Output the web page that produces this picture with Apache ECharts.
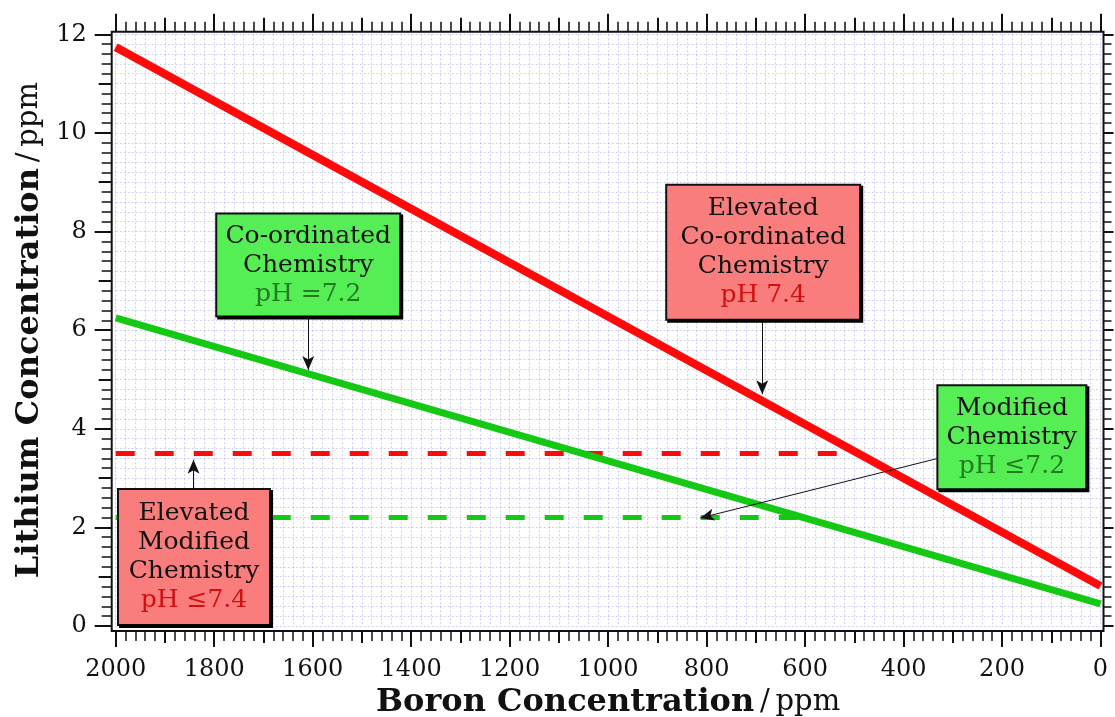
<!DOCTYPE html>
<html>
<head>
<meta charset="utf-8">
<script src="https://cdn.jsdelivr.net/npm/echarts@6/dist/echarts.min.js"></script>
<style>
  html, body { margin: 0; padding: 0; background: #fff; }
  #chart { width: 1115px; height: 717px; }
</style>
</head>
<body>
<div id="chart"></div>
<script>
// Boron range covered by the two operating lines (ppm)
const boronEnds = [2000, 0];
// Lithium at the ends of each sloped chemistry line (ppm)
const elevatedCoordinated = [11.74, 0.81];
const coordinated = [6.25, 0.45];
// Flat lithium levels and the boron span over which they hold
const elevatedModifiedSpan = [2000, 500];
const elevatedModifiedLevel = 3.5;
const modifiedSpan = [2000, 600];
const modifiedLevel = 2.2;

// Axis ranges and tick steps
const boronAxis = { min: 0, max: 2000, step: 200, half: 100 };
const lithiumAxis = { min: 0, max: 12, step: 2, half: 1 };

// Callout text
const noteTexts = {
  coordinated: ['Co-ordinated', 'Chemistry', 'pH =7.2'],
  elevatedCoordinated: ['Elevated', 'Co-ordinated', 'Chemistry', 'pH 7.4'],
  modified: ['Modified', 'Chemistry', 'pH \u22647.2'],
  elevatedModified: ['Elevated', 'Modified', 'Chemistry', 'pH \u22647.4']
};

const SERIF = '"DejaVu Serif", "Liberation Serif", serif';
const RED = '#ff0a0a';
const GREEN = '#14c814';
const GRID_LINE = { color: 'rgba(140,140,230,0.42)', width: 1, type: [2, 2] };

// Callout placement (data coordinates) and look
const noteLayout = [
  { key: 'coordinated', at: [1609, 7.32], w: 184, h: 101, fill: '#55ef55', ph: '#237a23',
    arrow: [[1609, 6.25], [1609, 5.19]] },
  { key: 'elevatedCoordinated', at: [685, 7.58], w: 194, h: 133, fill: '#fa7d7d', ph: '#d01010',
    arrow: [[687, 6.17], [687, 4.70]] },
  { key: 'modified', at: [180, 3.83], w: 149, h: 102, fill: '#55ef55', ph: '#237a23',
    arrow: [[326, 3.41], [813, 2.19]] },
  { key: 'elevatedModified', at: [1841, 1.40], w: 152, h: 134, fill: '#fa7d7d', ph: '#d01010',
    arrow: [[1842, 2.76], [1842, 3.37]] }
];

const LINE_H = 29;
const noteItems = noteLayout.map(n => {
  const lines = noteTexts[n.key];
  const body = lines.slice(0, -1).map(s => '{t|' + s + '}');
  body.push('{p|' + lines[lines.length - 1] + '}');
  const vPad = (n.h - lines.length * LINE_H) / 2;
  return {
    value: n.at,
    itemStyle: { opacity: 1 },
    label: {
      show: true,
      position: 'inside',
      opacity: 1,
      formatter: body.join('\n'),
      align: 'center',
      verticalAlign: 'middle',
      width: n.w - 14,
      padding: [vPad, 6],
      backgroundColor: n.fill,
      borderColor: '#111',
      borderWidth: 2,
      shadowColor: '#000',
      shadowOffsetX: 2,
      shadowOffsetY: 2,
      shadowBlur: 0,
      rich: {
        t: { fontFamily: SERIF, fontSize: 25, lineHeight: LINE_H, color: '#111', align: 'center' },
        p: { fontFamily: SERIF, fontSize: 25, lineHeight: LINE_H, color: n.ph, align: 'center' }
      }
    }
  };
});

const arrows = noteLayout.map(n => [
  { coord: n.arrow[0], symbol: 'none' },
  { coord: n.arrow[1], symbol: 'arrow', symbolSize: [9, 14] }
]);

const plainNumber = v => String(v);
const titleRich = {
  b: { fontFamily: SERIF, fontSize: 32, fontWeight: 'bold', color: '#111' },
  n: { fontFamily: SERIF, fontSize: 29, color: '#111' }
};
const tickStyle = { color: '#111', width: 2 };
const minorStyle = { color: '#111', width: 1.5 };

// Tick-only axis (no line, labels or grid) used for the frame's tick rows
function tickAxis(range, step, position, offset, len, minorLen) {
  return {
    type: 'value', position: position, offset: offset,
    inverse: range === boronAxis,
    min: range.min, max: range.max, interval: step,
    axisLine: { show: false, onZero: false },
    axisTick: { show: true, inside: false, length: len, lineStyle: tickStyle },
    minorTick: { show: minorLen > 0, splitNumber: 10, length: minorLen, lineStyle: minorStyle },
    axisLabel: { show: false },
    splitLine: { show: false }
  };
}

const option = {
  animation: false,
  backgroundColor: '#ffffff',
  grid: { left: 115.7, right: 14.5, top: 34.3, bottom: 91, outerBoundsMode: 'none', containLabel: false },
  xAxis: [
    {
      type: 'value', inverse: true, position: 'bottom', offset: 5,
      min: boronAxis.min, max: boronAxis.max, interval: boronAxis.step,
      name: '{b|Boron Concentration}{n|\u2009/\u2009ppm}',
      nameLocation: 'middle', nameGap: 47,
      nameTextStyle: { rich: titleRich },
      axisLine: { show: false, onZero: false },
      axisTick: { show: true, inside: false, length: 16, lineStyle: tickStyle },
      minorTick: { show: true, splitNumber: 10, length: 10, lineStyle: minorStyle },
      axisLabel: { margin: 27, fontFamily: SERIF, fontSize: 24, color: '#111', formatter: plainNumber },
      splitLine: { show: true, lineStyle: GRID_LINE },
      minorSplitLine: { show: true, lineStyle: GRID_LINE }
    },
    tickAxis(boronAxis, boronAxis.step, 'top', 2.5, 18, 10),
    tickAxis(boronAxis, boronAxis.half, 'bottom', 5, 12, 0),
    tickAxis(boronAxis, boronAxis.half, 'top', 2.5, 14, 0)
  ],
  yAxis: [
    {
      type: 'value', position: 'left', offset: 4,
      min: lithiumAxis.min, max: lithiumAxis.max, interval: lithiumAxis.step,
      name: '{b|Lithium Concentration}{n|\u2009/\u2009ppm}',
      nameLocation: 'middle', nameGap: 65, nameRotate: 90,
      nameTextStyle: { rich: titleRich },
      axisLine: { show: false, onZero: false },
      axisTick: { show: true, inside: false, length: 17, lineStyle: tickStyle },
      minorTick: { show: true, splitNumber: 10, length: 10, lineStyle: minorStyle },
      axisLabel: { margin: 25, fontFamily: SERIF, fontSize: 24, color: '#111', formatter: plainNumber },
      splitLine: { show: true, lineStyle: GRID_LINE },
      minorSplitLine: { show: true, lineStyle: GRID_LINE }
    },
    tickAxis(lithiumAxis, lithiumAxis.step, 'right', 3, 10, 8),
    tickAxis(lithiumAxis, lithiumAxis.half, 'left', 4, 13, 0)
  ],
  series: [
    {
      name: 'Elevated Modified', type: 'line', symbol: 'none', z: 2,
      data: elevatedModifiedSpan.map(b => [b, elevatedModifiedLevel]),
      lineStyle: { color: RED, width: 5, type: [19, 20] }
    },
    {
      name: 'Modified', type: 'line', symbol: 'none', z: 2,
      data: modifiedSpan.map(b => [b, modifiedLevel]),
      lineStyle: { color: GREEN, width: 5, type: [19, 20] }
    },
    {
      name: 'Co-ordinated', type: 'line', symbol: 'none', z: 3,
      data: boronEnds.map((b, i) => [b, coordinated[i]]),
      lineStyle: { color: GREEN, width: 7, cap: 'butt' }
    },
    {
      name: 'Elevated Co-ordinated', type: 'line', symbol: 'none', z: 4,
      data: boronEnds.map((b, i) => [b, elevatedCoordinated[i]]),
      lineStyle: { color: RED, width: 8, cap: 'butt' }
    },
    {
      name: 'notes', type: 'scatter', symbolSize: 0, z: 10,
      itemStyle: { opacity: 1 },
      data: noteItems,
      markLine: {
        silent: true, animation: false,
        symbol: ['none', 'arrow'],
        label: { show: false },
        lineStyle: { color: '#111', width: 1, type: 'solid', opacity: 1 },
        data: arrows
      }
    }
  ]
};

const chart = echarts.init(document.getElementById('chart'), null, { renderer: 'canvas' });
chart.setOption(option);

// Plot frame, set a few pixels outside the data range on each side
const tl = chart.convertToPixel({ gridIndex: 0 }, [boronAxis.max, lithiumAxis.max]);
const br = chart.convertToPixel({ gridIndex: 0 }, [boronAxis.min, lithiumAxis.min]);
chart.setOption({
  graphic: [{
    type: 'rect', z: 50, silent: true,
    shape: { x: tl[0] - 4, y: tl[1] - 2.5, width: (br[0] + 3) - (tl[0] - 4), height: (br[1] + 5) - (tl[1] - 2.5) },
    style: { fill: 'none', stroke: '#111', lineWidth: 2 }
  }]
});
</script>
</body>
</html>
